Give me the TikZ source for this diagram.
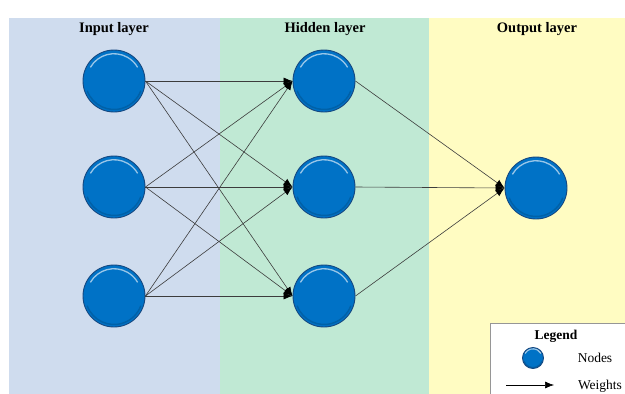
\documentclass[tikz,border=0pt]{standalone}
\usepackage{fontspec}
\setmainfont{Liberation Serif}
\usetikzlibrary{arrows.meta}
\definecolor{inbg}{RGB}{207,220,238}
\definecolor{hidbg}{RGB}{192,233,212}
\definecolor{outbg}{RGB}{255,252,194}
\definecolor{ballfill}{RGB}{0,114,198}
\definecolor{ballrim}{RGB}{22,72,128}
\definecolor{wire}{RGB}{60,60,60}
\definecolor{boxrim}{RGB}{150,150,150}

\begin{document}
\begin{tikzpicture}[x=1pt,y=-1pt,
  neuron/.style={circle, minimum size=#1, inner sep=0pt, fill=ballfill,
    draw=ballrim, line width=0.9pt,
    path picture={
      \draw[white, opacity=0.6, line width=1.3pt]
        (path picture bounding box.center) ++(150:0.44*#1) arc (150:30:0.44*#1);
      \draw[black, opacity=0.15, line width=1.5pt]
        (path picture bounding box.center) ++(200:0.46*#1) arc (200:340:0.46*#1);
    }},
  neuron/.default=62pt,
  weight/.style={draw=wire, line width=0.6pt, -{Latex[length=9pt,width=7pt,color=black]}},
  header/.style={font=\fontsize{14.5}{17}\selectfont\bfseries, anchor=center},
  legtext/.style={font=\fontsize{13.5}{16}\selectfont, anchor=center}
]
\useasboundingbox (0,0) rectangle (625,394);
\clip (0,0) rectangle (625,394);

% layer panels
\fill[inbg]  (9,18)  rectangle (220,394);
\fill[hidbg] (220,18) rectangle (429,394);
\fill[outbg] (429,18) rectangle (625,394);

\node[header] (hin)  at (114,29) {Input layer};
\node[header] (hhid) at (325,29) {Hidden layer};
\node[header] (hout) at (537,29) {Output layer};

% neurons
\node[neuron] (i1) at (114,81)  {};
\node[neuron] (i2) at (114,187) {};
\node[neuron] (i3) at (114,296) {};
\node[neuron] (h1) at (324,81)  {};
\node[neuron] (h2) at (324,187) {};
\node[neuron] (h3) at (324,296) {};
\node[neuron] (o1) at (536,188) {};

% weights
\foreach \i in {1,2,3}{
  \foreach \h in {1,2,3}{
    \draw[weight] (i\i.east) -- (h\h.west);
  }
  \draw[weight] (h\i.east) -- (o1.west);
}

% legend
\draw[boxrim, fill=white, line width=0.8pt] (490,323) rectangle (640,410);
\node[header, font=\fontsize{13.5}{16}\selectfont\bfseries] (lgt) at (556,336) {Legend};
\node[neuron=21pt] (lball) at (533,358) {};
\node[legtext] (lnodes) at (595,358) {Nodes};
\coordinate (la) at (506,385);
\coordinate (lb) at (554,385);
\draw[weight, draw=black] (la) -- (lb);
\node[legtext] (lw) at (600,386) {Weights};
\end{tikzpicture}
\end{document}
